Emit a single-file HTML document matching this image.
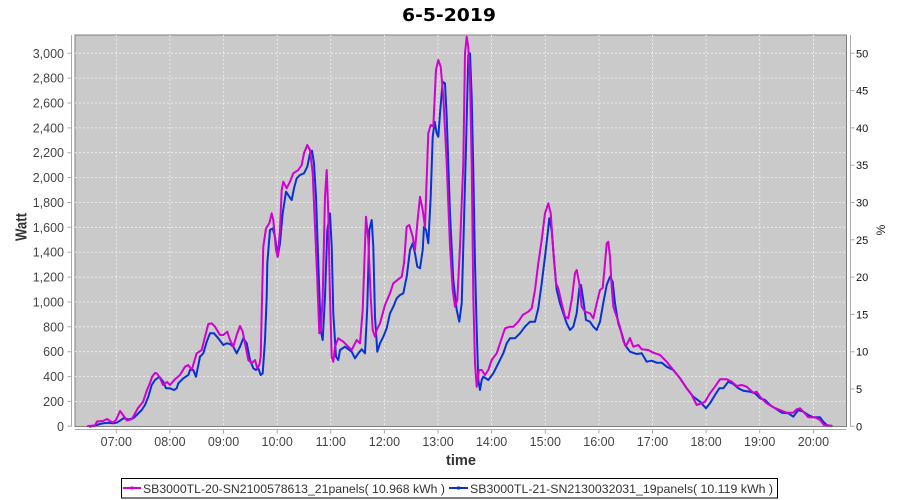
<!DOCTYPE html>
<html><head><meta charset="utf-8"><style>
html,body{margin:0;padding:0;background:#fff;}
svg{display:block;}
text{font-family:"Liberation Sans",sans-serif;}
</style></head><body>
<svg width="900" height="500" viewBox="0 0 900 500" xmlns="http://www.w3.org/2000/svg">
<rect x="0" y="0" width="900" height="500" fill="#fff"/>
<text x="449" y="21" text-anchor="middle" font-family="DejaVu Sans, sans-serif" font-weight="bold" font-size="18" textLength="94" lengthAdjust="spacingAndGlyphs" fill="#000" style="font-family:'DejaVu Sans',sans-serif">6-5-2019</text>
<rect x="75" y="35" width="771.5" height="391.5" fill="#cacaca" stroke="#808080" stroke-width="1"/>
<g stroke="#f2f2f2" stroke-width="0.8" stroke-dasharray="2,2" fill="none">
<path d="M75 401.4H846M75 376.6H846M75 351.7H846M75 326.8H846M75 302H846M75 277.1H846M75 252.2H846M75 227.3H846M75 202.5H846M75 177.6H846M75 152.7H846M75 127.9H846M75 103H846M75 78.1H846M75 53.3H846"/>
<path d="M116.3 35V426M169.9 35V426M223.5 35V426M277.2 35V426M330.8 35V426M384.4 35V426M438 35V426M491.6 35V426M545.3 35V426M598.9 35V426M652.5 35V426M706.1 35V426M759.7 35V426M813.4 35V426"/>
</g>
<g fill="none" stroke-width="2" stroke-linejoin="round" stroke-linecap="round">
<polyline stroke="#0a32d2" points="90,426.7 96.7,425 100,424 103.3,423.3 108.3,422.7 113.3,423.3 116.7,422.7 120,420.7 123.3,418.3 128.3,419.3 133.3,418.3 136.7,415 141.7,410 145,405 148.3,396.7 151.7,385 155,380 159.3,376.7 163.3,381.7 166,388.3 170,388.3 174,390 176.7,388.3 178.3,383.3 183.3,378.3 188.3,375 190,370 193.3,370 196,376.7 200,356.7 203.3,353.3 206.7,341.7 210,333.3 214,333.3 218.3,338.3 223.3,345 226.7,343.3 230,344 233.3,346.7 236.7,353.3 240,346.7 243.3,338.3 246.7,343.3 250,360 253.3,368.3 256,370 258.3,368.3 260.7,375 262.7,373.3 265,340 266.7,296.7 267.3,263.3 270,230 272.7,228.3 275,236.7 277.7,256.7 280,243.3 282.7,213.3 286,191.7 289.3,196.7 291.7,200 294,188.3 296.7,178.3 300,175 304,173.3 307.3,166.7 310,153.3 312,150.7 314,163.3 316,196.7 318.3,263.3 320.7,330 322.7,340 325,296.7 327.3,230 330,213.3 331.7,246.7 333.3,313.3 336,356.7 338.3,360 340,350 345,346.7 349.3,350 351.7,351.7 355,358.3 358.3,353.3 361.7,349.3 365,353.3 367.3,306.7 369.3,230 371.7,220 373.3,246.7 375,316.7 377.3,351.7 380,343.3 383.3,336.7 386.7,328.3 390,313.3 393.3,306.7 396.7,298.3 400,295 403.3,293.3 406.7,276.7 410,250 412.7,243.3 415,253.3 417.3,266.7 420,268.3 422.7,250 424,226.7 426,230 428.3,243.3 430.7,196.7 432.7,136.7 434.7,121.7 436.7,133.3 438.3,136.7 440,113.3 442.7,81.7 445,83.3 446.7,116.7 450,213.3 453.3,280 456.7,310 459.3,321.7 461.7,303.3 463.3,246.7 466,146.7 468.3,55 470,53.3 471.7,96.7 473.3,170 475,263.3 476.7,330 478.3,380 480,390 481.7,380 483.3,376.7 488.3,380 493.3,373.3 498.3,363.3 503.3,353.3 506.7,343.3 510,338.3 515,338.3 520,333.3 525,326.7 530,321.7 535,321.7 538.3,308.3 541.7,283.3 545,256.7 547.7,233.3 549.3,218.3 551.7,230 554,260 556.7,290 560,303.3 563.3,313.3 566.7,323.3 570,330 573.3,326.7 576.7,313.3 579.3,288.3 581,285 583.3,300 586,320 590,321.7 593.3,326.7 596.7,330 600,321.7 603.3,303 606.7,285 610,276.7 612.7,281.7 615,303.3 618.3,323.3 621.7,333.3 625,345 630,351.7 636.7,354 641.7,353.3 646.7,361.7 651.7,360.7 656.7,362.7 661.7,362.7 666.7,366.7 673.3,370 680,378.3 686.7,388.3 693.3,396.7 700,401.7 706,408.3 710,403.3 715,395 719.3,388.3 723.3,388.3 728.3,381.7 733.3,384 738.3,388.3 743.3,390.7 750,391.7 755,393.3 760,398.3 765,400 770,405 776.7,409.3 781.7,412.7 788.3,413.3 793.3,416.7 798.3,410 803.3,411.7 808.3,415 813.3,417.3 820,417.3 823.3,421.7 826.7,425 830,425.7"/>
<polyline stroke="#d200d2" points="88,426 95,425.5 97,421.5 103,421 107,419 110,421 113,422.5 116,420 120,411 123,415 127,420.5 132,419 138,408 143,402 147,390 150,383 152,377 155,373 157,373.5 160,378 163,385 167,382 170,385 175,379.3 180,375 185,366.7 188.3,365 191.7,370 196.7,353.3 201.7,350 205,336.7 208.3,324 211.7,323.3 215,326.7 220,335 223.3,335 227.3,331.7 230,340 233.3,346.7 236.7,335 240,326 242.7,331.7 245,343.3 248.3,360 251.7,363.3 255,360 257.3,368.3 259.3,365 260.7,356.7 262,300 263.3,246.7 266,228.3 269.3,223.3 271.7,213.3 273.3,220 276,250 277.7,256.7 280,230 281.7,190 283.3,181.7 286.7,188.3 290,181.7 293.3,173.3 298.3,170 301.7,165 304,153.3 307.3,145 310,150 312.7,173.3 315,226.7 317.3,280 319.3,333.3 320.7,331.7 322.7,296.7 325,196.7 326.7,170 328.3,213.3 330,296.7 331.7,356.7 333.3,361.7 335,346.7 338.3,338.3 343.3,341.7 348.3,346.7 351.7,350 356.7,340 360,343.3 362.7,310 366,216.7 368.3,240 370.7,296.7 372.7,330 375,336.7 376.7,330 380,323.3 385,305 390,293.3 393.3,283.3 398.3,279.3 401.7,276.7 404,263.3 406.7,226.7 409.3,225 412.7,236.7 415,250 417.3,223.3 420,196.7 422.7,210 425,226.7 428.3,133.3 430.7,125 433.3,126.7 436,70 438.3,60 440.7,66.7 443.3,96.7 446.7,163.3 450,246.7 452.7,290 455,306.7 457.3,300 460,246.7 463.3,163.3 465,53.3 466.7,36.7 468.3,46.7 470,80 471.7,163.3 473.3,296.7 475,363.3 476.7,386.7 479,370 481.7,370 485,375 488.3,370 491.7,360 496.7,353.3 500,343.3 505,328.3 510,326.7 513.3,326.7 518.3,321.7 522.7,315 528.3,311.7 531.7,308.3 535,290 538.3,263.3 541.7,240 545,213.3 548.3,203.3 550.7,213.3 553.3,250 556,283.3 558.3,288.3 561.7,303.3 565,316.7 568.3,318.3 571.7,300 575,273.3 576.7,270 579.3,283.3 581.7,306.7 585,311.7 590,313.3 593.3,318.3 596.7,303.3 600,290 602.7,288 605,263.3 606.7,243.3 608.3,241.7 610,256.7 611.7,286.7 613.3,306.7 616.7,316.7 620,327 623.3,341 626,346 630,338 633.3,346.7 638.3,345 641.7,349.3 648.3,350 653.3,352.7 660,355 666.7,361.7 673.3,370 680,378.3 686.7,388.3 691.7,395 696.7,405 701.7,403.3 705,401.7 710,393.3 715,386.7 720,379.3 726.7,379.3 731.7,381.7 736.7,386 741.7,385 746.7,386.7 753.3,392.7 756.7,391.7 760,396.7 766.7,403.3 773.3,407.3 780,410 786.7,412.7 793.3,412.7 796.7,409.3 800,408.3 803.3,411.7 808.3,417.3 815,417.3 820,420 824,425 831.7,425.7"/>
</g>
<g stroke="#aaaaaa" stroke-width="1" fill="none">
<path d="M71.5 35V426.5M75 429.5H846.5M850.5 35V426.5"/>
<path d="M67.5 426.3H71.5M67.5 401.4H71.5M67.5 376.6H71.5M67.5 351.7H71.5M67.5 326.8H71.5M67.5 302H71.5M67.5 277.1H71.5M67.5 252.2H71.5M67.5 227.3H71.5M67.5 202.5H71.5M67.5 177.6H71.5M67.5 152.7H71.5M67.5 127.9H71.5M67.5 103H71.5M67.5 78.1H71.5M67.5 53.3H71.5"/>
<path d="M116.3 429.5V433.5M169.9 429.5V433.5M223.5 429.5V433.5M277.2 429.5V433.5M330.8 429.5V433.5M384.4 429.5V433.5M438 429.5V433.5M491.6 429.5V433.5M545.3 429.5V433.5M598.9 429.5V433.5M652.5 429.5V433.5M706.1 429.5V433.5M759.7 429.5V433.5M813.4 429.5V433.5"/>
<path d="M850.5 426.3H854.5M850.5 389H854.5M850.5 351.7H854.5M850.5 314.4H854.5M850.5 277.1H854.5M850.5 239.8H854.5M850.5 202.5H854.5M850.5 165.2H854.5M850.5 127.9H854.5M850.5 90.6H854.5M850.5 53.3H854.5"/>
</g>
<g font-size="12.5" fill="#444" text-anchor="end">
<text x="64" y="430.8">0</text>
<text x="64" y="405.9">200</text>
<text x="64" y="381.1">400</text>
<text x="64" y="356.2">600</text>
<text x="64" y="331.3">800</text>
<text x="64" y="306.5">1,000</text>
<text x="64" y="281.6">1,200</text>
<text x="64" y="256.7">1,400</text>
<text x="64" y="231.8">1,600</text>
<text x="64" y="207">1,800</text>
<text x="64" y="182.1">2,000</text>
<text x="64" y="157.2">2,200</text>
<text x="64" y="132.4">2,400</text>
<text x="64" y="107.5">2,600</text>
<text x="64" y="82.6">2,800</text>
<text x="64" y="57.8">3,000</text>
</g>
<g font-size="11" fill="#111" text-anchor="start">
<text x="856" y="430.3">0</text>
<text x="856" y="393">5</text>
<text x="856" y="355.7">10</text>
<text x="856" y="318.4">15</text>
<text x="856" y="281.1">20</text>
<text x="856" y="243.8">25</text>
<text x="856" y="206.5">30</text>
<text x="856" y="169.2">35</text>
<text x="856" y="131.9">40</text>
<text x="856" y="94.6">45</text>
<text x="856" y="57.3">50</text>
</g>
<g font-size="12.5" fill="#444" text-anchor="middle">
<text x="116.3" y="446">07:00</text>
<text x="169.9" y="446">08:00</text>
<text x="223.5" y="446">09:00</text>
<text x="277.2" y="446">10:00</text>
<text x="330.8" y="446">11:00</text>
<text x="384.4" y="446">12:00</text>
<text x="438" y="446">13:00</text>
<text x="491.6" y="446">14:00</text>
<text x="545.3" y="446">15:00</text>
<text x="598.9" y="446">16:00</text>
<text x="652.5" y="446">17:00</text>
<text x="706.1" y="446">18:00</text>
<text x="759.7" y="446">19:00</text>
<text x="813.4" y="446">20:00</text>
</g>
<text x="461" y="465" text-anchor="middle" font-size="15" font-weight="bold" fill="#333" textLength="30" lengthAdjust="spacingAndGlyphs">time</text>
<text transform="translate(26.5,227) rotate(-90)" text-anchor="middle" font-size="16" font-weight="bold" fill="#333" textLength="28" lengthAdjust="spacingAndGlyphs">Watt</text>
<text transform="translate(885,230) rotate(-90)" text-anchor="middle" font-size="12" fill="#222">%</text>
<rect x="121.5" y="478.5" width="656" height="19.5" fill="#fff" stroke="#000" stroke-width="1"/>
<line x1="123" y1="488" x2="141" y2="488" stroke="#d200d2" stroke-width="2"/>
<rect x="130.5" y="486.5" width="3" height="3" fill="#d200d2"/>
<text x="143" y="493" font-size="12.3" fill="#333" textLength="302" lengthAdjust="spacingAndGlyphs">SB3000TL-20-SN2100578613_21panels( 10.968 kWh )</text>
<line x1="449" y1="488" x2="468" y2="488" stroke="#0a32d2" stroke-width="2"/>
<rect x="457" y="486.5" width="3" height="3" fill="#0a32d2"/>
<text x="470" y="493" font-size="12.3" fill="#333" textLength="303" lengthAdjust="spacingAndGlyphs">SB3000TL-21-SN2130032031_19panels( 10.119 kWh )</text>
</svg>
</body></html>
